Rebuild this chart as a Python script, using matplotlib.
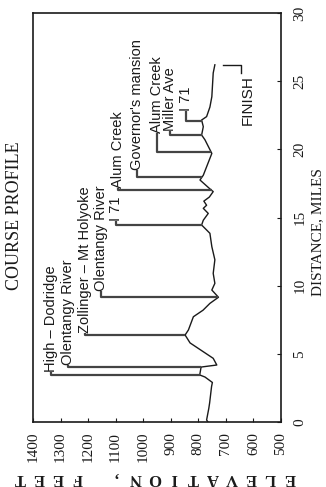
import matplotlib
matplotlib.use('Agg')
import matplotlib.pyplot as plt
import numpy as np

# course profile: distance (miles) vs elevation (feet)
distance = [0, 0.15, 1.0, 1.4, 2.6, 2.9, 3.3, 3.45, 4.03, 4.18, 4.67, 5.8, 6.38,
            6.75, 7.72, 8.2, 8.7, 9.15, 9.68, 10.17, 10.9, 11.9, 12.86, 13.84,
            14.45, 14.8, 15.3, 15.67, 15.9, 16.2, 16.5, 16.9, 17.1, 17.75, 18.1,
            19.7, 20.7, 21.05, 21.66, 22.15, 22.4, 23.1, 23.86, 25.6, 26.2]
elevation = [765, 770, 762, 759, 752, 749, 776, 795, 790, 733, 746, 830, 848,
             836, 818, 783, 758, 727, 751, 740, 746, 740, 751, 758,
             788, 782, 764, 782, 770, 780, 760, 746, 758, 794, 782,
             751, 776, 788, 782, 788, 770, 758, 751, 746, 740]

# landmarks along the course
landmarks = ['High – Dodridge', 'Olentangy River', 'Zollinger – Mt Holyoke',
             'Olentangy River', 'I 71', 'Alum Creek', "Governor's mansion",
             'Alum Creek', 'Miller Ave', 'I 71']
mark_dist = [3.45, 4.03, 6.38, 9.17, 14.45, 17.0, 17.97, 19.8, 21.05, 22.08]
label_elev = [1335, 1273, 1211, 1153, 1099, 1091, 1023, 950, 903, 845]
label_dist = [3.7, 4.15, 6.55, 9.6, 14.75, 17.15, 18.45, 21.2, 21.35, 22.8]

finish_dist = 26.2
finish_elev = [710, 645]

elev_ticks = np.arange(500, 1401, 100)
dist_ticks = np.arange(0, 31, 5)

serif = ['Liberation Serif', 'DejaVu Serif']
sans = ['Liberation Sans', 'DejaVu Sans']
ink = '#1a1a1a'

fig = plt.figure(figsize=(3.26, 4.87), dpi=100)
ax = fig.add_axes([33 / 326, 65 / 487, 248 / 326, 409 / 487])

ax.plot(elevation, distance, color=ink, lw=1.0)

prof_at = np.interp(mark_dist, distance, elevation)
for name, d, pe, le, ld in zip(landmarks, mark_dist, prof_at, label_elev, label_dist):
    ax.plot([pe, le, le], [d, d, ld], color='#444444', lw=1.6,
            solid_capstyle='butt')
    ax.text(le, ld, name, rotation=90, ha='center', va='bottom',
            fontsize=10.5, family=sans, color=ink)

# finish bracket
ax.plot([finish_elev[0], finish_elev[1], finish_elev[1]],
        [finish_dist, finish_dist, finish_dist - 0.6], color=ink, lw=1.0)
ax.text(finish_elev[1] - 25, finish_dist - 0.75, 'FINISH', rotation=90,
        ha='center', va='top', fontsize=11, family=sans, color=ink)

ax.set_xlim(1400, 500)
ax.set_ylim(0, 30)
ax.set_xticks(elev_ticks)
ax.set_yticks(dist_ticks)
ax.tick_params(axis='x', direction='in', length=3, pad=7, labelrotation=90,
               labelsize=11, colors=ink)
ax.tick_params(axis='y', direction='in', length=3, pad=9, labelrotation=90,
               left=False, right=True, labelleft=False, labelright=True,
               labelsize=11, colors=ink)
for lbl in ax.get_xticklabels() + ax.get_yticklabels():
    lbl.set_family(serif)
for lbl in ax.get_yticklabels():
    lbl.set_va('center')
for sp in ax.spines.values():
    sp.set_color(ink)
    sp.set_linewidth(1.2)

fig.text(15 / 326, 1 - 216 / 487, 'COURSE PROFILE', rotation=90,
         ha='center', va='center', fontsize=13, family=serif, color=ink)
fig.text(318 / 326, 1 - 232 / 487, 'DISTANCE, MILES', rotation=90,
         ha='center', va='center', fontsize=11, family=serif, color=ink)

# upside-down, letter-spaced elevation label
ylabel = 'ELEVATION, FEET'
xs = np.linspace(290, 20, len(ylabel))
for ch, xp in zip(ylabel, xs):
    fig.text(xp / 326, 1 - 478 / 487, ch, rotation=180, ha='center',
             va='center', fontsize=12, family=serif, color=ink,
             fontweight='bold')

fig.savefig('out.png', dpi=100)
